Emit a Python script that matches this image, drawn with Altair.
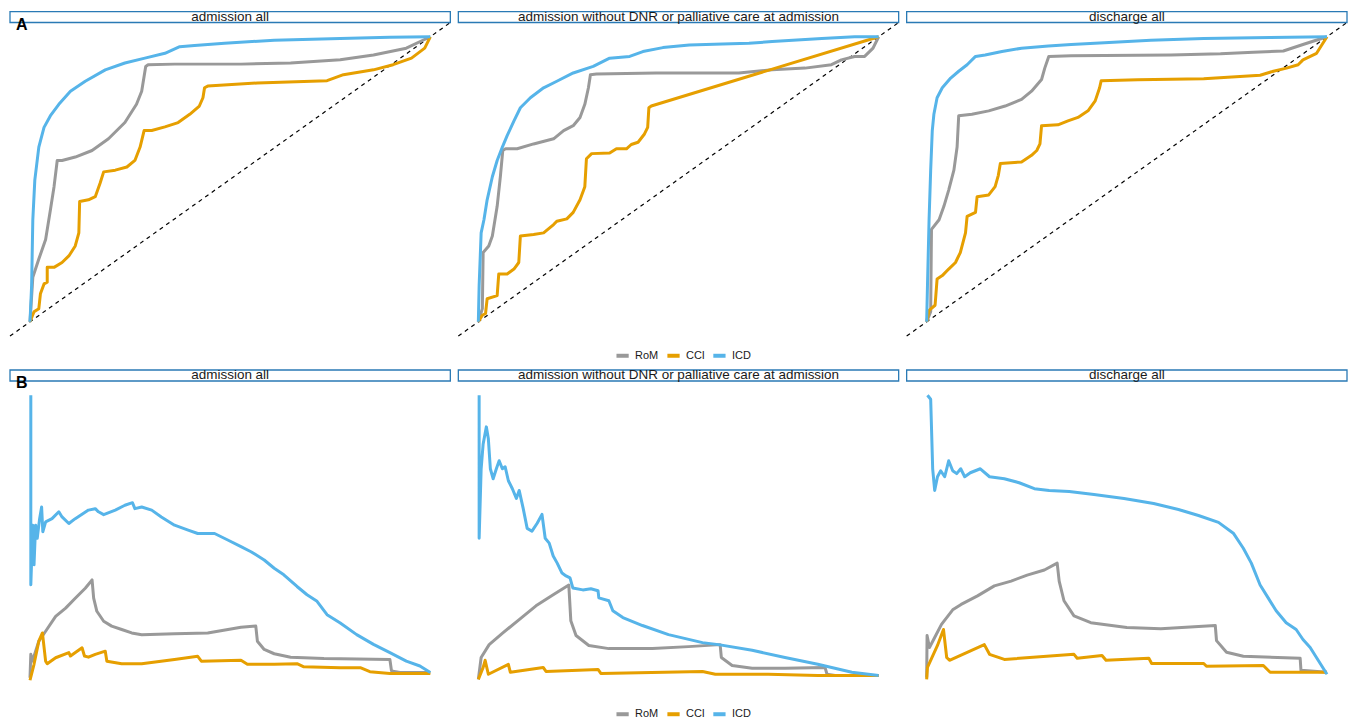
import altair as alt
import pandas as pd

series = ["RoM", "CCI", "ICD"]
colors = ["#999999", "#E69F00", "#56B4E9"]
panel_titles = ["admission all",
                "admission without DNR or palliative care at admission",
                "discharge all"]
row_labels = ["A", "B"]
domain = [-0.05, 1.05]
diag = [-0.05, 1.05]

# ---------- Row A: ROC curves (x = 1 - specificity, y = sensitivity) ----------
roc_p1_RoM = [(0, 0), (0.007, 0.156), (0.022, 0.220), (0.039, 0.289), (0.051, 0.393), (0.060, 0.474),
              (0.068, 0.566), (0.080, 0.566), (0.113, 0.578), (0.155, 0.601), (0.196, 0.642), (0.237, 0.699),
              (0.266, 0.763), (0.279, 0.809), (0.289, 0.896), (0.295, 0.902), (0.361, 0.904), (0.527, 0.904),
              (0.651, 0.908), (0.775, 0.919), (0.858, 0.936), (0.940, 0.960), (1, 1)]
roc_p1_CCI = [(0, 0), (0.010, 0.035), (0.022, 0.046), (0.026, 0.098), (0.035, 0.133), (0.043, 0.139),
              (0.043, 0.191), (0.060, 0.191), (0.080, 0.208), (0.097, 0.231), (0.113, 0.266), (0.122, 0.312),
              (0.124, 0.422), (0.146, 0.428), (0.163, 0.439), (0.175, 0.486), (0.184, 0.526), (0.213, 0.532),
              (0.242, 0.543), (0.262, 0.566), (0.275, 0.613), (0.285, 0.671), (0.304, 0.671), (0.337, 0.684),
              (0.370, 0.699), (0.399, 0.728), (0.423, 0.757), (0.432, 0.786), (0.436, 0.821), (0.444, 0.827),
              (0.568, 0.838), (0.742, 0.846), (0.783, 0.867), (0.858, 0.884), (0.907, 0.902), (0.953, 0.925),
              (0.986, 0.960), (1, 1)]
roc_p1_ICD = [(0, 0), (0.004, 0.127), (0.007, 0.358), (0.012, 0.497), (0.022, 0.613), (0.035, 0.682),
              (0.051, 0.723), (0.072, 0.763), (0.101, 0.809), (0.138, 0.844), (0.188, 0.884), (0.237, 0.908),
              (0.287, 0.925), (0.337, 0.942), (0.374, 0.965), (0.411, 0.969), (0.486, 0.977), (0.610, 0.988),
              (0.775, 0.994), (0.899, 0.998), (1, 1)]

roc_p2_RoM = [(0, 0), (0.010, 0.046), (0.012, 0.243), (0.026, 0.266), (0.035, 0.301), (0.047, 0.405),
              (0.055, 0.509), (0.061, 0.601), (0.068, 0.607), (0.097, 0.607), (0.138, 0.624), (0.188, 0.642),
              (0.213, 0.671), (0.237, 0.688), (0.254, 0.717), (0.266, 0.763), (0.275, 0.821), (0.280, 0.867),
              (0.295, 0.869), (0.444, 0.873), (0.651, 0.873), (0.734, 0.884), (0.816, 0.890), (0.882, 0.902),
              (0.907, 0.919), (0.940, 0.931), (0.965, 0.931), (0.986, 0.960), (1, 1)]
roc_p2_CCI = [(0, 0), (0.010, 0.023), (0.018, 0.029), (0.022, 0.081), (0.047, 0.092), (0.051, 0.168),
              (0.072, 0.168), (0.089, 0.185), (0.101, 0.208), (0.105, 0.301), (0.138, 0.306), (0.163, 0.312),
              (0.188, 0.341), (0.196, 0.353), (0.221, 0.361), (0.237, 0.384), (0.254, 0.428), (0.266, 0.474),
              (0.270, 0.572), (0.283, 0.590), (0.328, 0.592), (0.345, 0.607), (0.370, 0.607), (0.382, 0.622),
              (0.399, 0.630), (0.415, 0.659), (0.423, 0.682), (0.426, 0.751), (0.432, 0.757), (1, 1)]
roc_p2_ICD = [(0, 0), (0.002, 0.127), (0.007, 0.312), (0.014, 0.358), (0.022, 0.428), (0.035, 0.509),
              (0.047, 0.566), (0.060, 0.613), (0.072, 0.653), (0.089, 0.705), (0.105, 0.751), (0.130, 0.786),
              (0.163, 0.821), (0.196, 0.844), (0.237, 0.873), (0.287, 0.896), (0.328, 0.925), (0.378, 0.931),
              (0.411, 0.948), (0.461, 0.962), (0.527, 0.971), (0.610, 0.975), (0.676, 0.977), (0.734, 0.983),
              (0.858, 0.994), (0.940, 1.0), (1, 1)]

roc_p3_RoM = [(0, 0), (0.010, 0.035), (0.012, 0.324), (0.031, 0.358), (0.043, 0.405), (0.055, 0.462),
              (0.068, 0.532), (0.076, 0.613), (0.080, 0.723), (0.113, 0.728), (0.155, 0.740), (0.196, 0.757),
              (0.237, 0.780), (0.262, 0.809), (0.287, 0.850), (0.295, 0.890), (0.305, 0.931), (0.361, 0.933),
              (0.610, 0.936), (0.734, 0.940), (0.816, 0.946), (0.891, 0.950), (0.940, 0.973), (1, 1)]
roc_p3_CCI = [(0, 0), (0.006, 0.040), (0.021, 0.058), (0.026, 0.150), (0.039, 0.162), (0.055, 0.185),
              (0.072, 0.208), (0.084, 0.243), (0.097, 0.312), (0.101, 0.370), (0.122, 0.384), (0.126, 0.439),
              (0.155, 0.445), (0.171, 0.474), (0.179, 0.514), (0.184, 0.555), (0.237, 0.561), (0.262, 0.584),
              (0.275, 0.601), (0.283, 0.624), (0.287, 0.688), (0.328, 0.691), (0.353, 0.705), (0.378, 0.717),
              (0.403, 0.740), (0.421, 0.775), (0.432, 0.821), (0.436, 0.846), (0.527, 0.849), (0.692, 0.853),
              (0.833, 0.865), (0.866, 0.879), (0.899, 0.890), (0.928, 0.902), (0.940, 0.919), (0.974, 0.942),
              (1, 1)]
roc_p3_ICD = [(0, 0), (0.002, 0.127), (0.006, 0.358), (0.010, 0.532), (0.014, 0.671), (0.018, 0.728),
              (0.026, 0.786), (0.039, 0.821), (0.060, 0.855), (0.080, 0.879), (0.101, 0.902), (0.122, 0.931),
              (0.146, 0.936), (0.188, 0.948), (0.237, 0.960), (0.304, 0.968), (0.361, 0.973), (0.444, 0.979),
              (0.560, 0.988), (0.692, 0.994), (0.858, 0.997), (1, 1)]

# ---------- Row B: second curve family ----------
b_p1_RoM = [(0, 0.009), (0.002, 0.091), (0.006, 0.067), (0.022, 0.137), (0.039, 0.172), (0.064, 0.224),
            (0.089, 0.253), (0.113, 0.288), (0.138, 0.323), (0.155, 0.352), (0.159, 0.288), (0.167, 0.242),
            (0.184, 0.207), (0.204, 0.190), (0.229, 0.178), (0.254, 0.166), (0.279, 0.160), (0.361, 0.163),
            (0.444, 0.166), (0.527, 0.186), (0.564, 0.190), (0.568, 0.137), (0.585, 0.108), (0.610, 0.093),
            (0.651, 0.081), (0.734, 0.076), (0.899, 0.073), (0.903, 0.033), (0.924, 0.027), (1.0, 0.027)]
b_p1_CCI = [(0, 0), (0.010, 0.056), (0.022, 0.137), (0.031, 0.166), (0.039, 0.067), (0.043, 0.058),
            (0.064, 0.079), (0.097, 0.097), (0.101, 0.085), (0.130, 0.114), (0.136, 0.085), (0.146, 0.081),
            (0.163, 0.091), (0.188, 0.102), (0.192, 0.067), (0.229, 0.058), (0.279, 0.058), (0.361, 0.073),
            (0.419, 0.084), (0.428, 0.067), (0.527, 0.070), (0.543, 0.056), (0.610, 0.056), (0.667, 0.058),
            (0.684, 0.047), (0.775, 0.044), (0.825, 0.044), (0.849, 0.030), (0.899, 0.024), (1.0, 0.024)]
b_p1_ICD = [(0.002, 1.0), (0.002, 0.335), (0.007, 0.544), (0.010, 0.405), (0.014, 0.544), (0.018, 0.498),
            (0.024, 0.567), (0.029, 0.608), (0.032, 0.521), (0.039, 0.556), (0.055, 0.567), (0.072, 0.591),
            (0.080, 0.573), (0.097, 0.550), (0.113, 0.567), (0.146, 0.597), (0.163, 0.602), (0.171, 0.591),
            (0.184, 0.581), (0.213, 0.597), (0.237, 0.614), (0.256, 0.623), (0.262, 0.602), (0.279, 0.608),
            (0.304, 0.597), (0.328, 0.573), (0.361, 0.544), (0.395, 0.527), (0.419, 0.515), (0.461, 0.515),
            (0.494, 0.492), (0.527, 0.469), (0.552, 0.451), (0.585, 0.422), (0.610, 0.393), (0.634, 0.370),
            (0.667, 0.329), (0.692, 0.300), (0.717, 0.277), (0.742, 0.230), (0.775, 0.201), (0.816, 0.160),
            (0.858, 0.126), (0.899, 0.097), (0.940, 0.067), (0.974, 0.050), (1.0, 0.027)]

b_p2_RoM = [(0, 0.003), (0.007, 0.080), (0.027, 0.125), (0.062, 0.167), (0.102, 0.213), (0.144, 0.261),
            (0.187, 0.300), (0.226, 0.334), (0.231, 0.209), (0.244, 0.157), (0.276, 0.122), (0.326, 0.111),
            (0.435, 0.111), (0.525, 0.118), (0.604, 0.125), (0.607, 0.080), (0.634, 0.052), (0.684, 0.042),
            (0.766, 0.042), (0.866, 0.045), (0.871, 0.021), (0.891, 0.017), (1.0, 0.017)]
b_p2_CCI = [(0, 0.003), (0.012, 0.045), (0.017, 0.070), (0.025, 0.021), (0.075, 0.056), (0.080, 0.028),
            (0.162, 0.045), (0.169, 0.031), (0.299, 0.038), (0.306, 0.024), (0.560, 0.031), (0.592, 0.021),
            (0.724, 0.021), (0.848, 0.017), (1.0, 0.017)]
b_p2_ICD = [(0.002, 1.0), (0.002, 0.498), (0.007, 0.742), (0.012, 0.829), (0.020, 0.889), (0.025, 0.847),
            (0.030, 0.742), (0.037, 0.707), (0.045, 0.742), (0.052, 0.770), (0.060, 0.742), (0.067, 0.749),
            (0.075, 0.700), (0.085, 0.672), (0.095, 0.638), (0.102, 0.666), (0.112, 0.603), (0.122, 0.533),
            (0.134, 0.523), (0.147, 0.551), (0.159, 0.582), (0.167, 0.498), (0.177, 0.481), (0.187, 0.436),
            (0.197, 0.411), (0.209, 0.376), (0.219, 0.366), (0.229, 0.359), (0.236, 0.324), (0.261, 0.317),
            (0.281, 0.321), (0.299, 0.314), (0.301, 0.289), (0.326, 0.279), (0.336, 0.244), (0.361, 0.220),
            (0.410, 0.192), (0.475, 0.160), (0.560, 0.132), (0.600, 0.125), (0.684, 0.105), (0.766, 0.080),
            (0.848, 0.056), (0.933, 0.028), (1.0, 0.017)]

b_p3_RoM = [(0, 0.010), (0.001, 0.157), (0.007, 0.115), (0.020, 0.150), (0.037, 0.196), (0.065, 0.247),
            (0.086, 0.266), (0.127, 0.296), (0.169, 0.331), (0.211, 0.348), (0.251, 0.369), (0.294, 0.387),
            (0.326, 0.411), (0.331, 0.348), (0.343, 0.279), (0.368, 0.226), (0.410, 0.202), (0.500, 0.185),
            (0.585, 0.181), (0.721, 0.192), (0.724, 0.139), (0.749, 0.098), (0.791, 0.084), (0.933, 0.077),
            (0.935, 0.035), (1.0, 0.028)]
b_p3_CCI = [(0, 0.003), (0.002, 0.045), (0.027, 0.122), (0.042, 0.178), (0.050, 0.080), (0.057, 0.070),
            (0.144, 0.125), (0.157, 0.091), (0.194, 0.073), (0.368, 0.091), (0.376, 0.077), (0.438, 0.087),
            (0.448, 0.070), (0.555, 0.077), (0.562, 0.059), (0.692, 0.059), (0.699, 0.049), (0.841, 0.052),
            (0.858, 0.028), (1.0, 0.028)]
b_p3_ICD = [(0.002, 1.0), (0.010, 0.986), (0.015, 0.742), (0.020, 0.666), (0.027, 0.714), (0.035, 0.735),
            (0.045, 0.714), (0.055, 0.770), (0.065, 0.735), (0.075, 0.725), (0.085, 0.742), (0.095, 0.714),
            (0.109, 0.728), (0.134, 0.742), (0.157, 0.714), (0.194, 0.707), (0.231, 0.693), (0.269, 0.672),
            (0.306, 0.666), (0.356, 0.662), (0.418, 0.652), (0.493, 0.638), (0.567, 0.620), (0.629, 0.599),
            (0.679, 0.578), (0.729, 0.554), (0.766, 0.516), (0.791, 0.463), (0.811, 0.411), (0.833, 0.334),
            (0.853, 0.289), (0.873, 0.244), (0.898, 0.202), (0.923, 0.178), (0.940, 0.143), (0.958, 0.115),
            (0.978, 0.070), (1.0, 0.021)]

rows = [
    [[roc_p1_RoM, roc_p1_CCI, roc_p1_ICD], [roc_p2_RoM, roc_p2_CCI, roc_p2_ICD], [roc_p3_RoM, roc_p3_CCI, roc_p3_ICD]],
    [[b_p1_RoM, b_p1_CCI, b_p1_ICD], [b_p2_RoM, b_p2_CCI, b_p2_ICD], [b_p3_RoM, b_p3_CCI, b_p3_ICD]],
]

W, H, STRIP = 441, 314, 11
HSPACE, VSPACE = 8, 4
FONT = "Liberation Sans"
STRIP_BLUE = "#2A7AB5"

legend = alt.Legend(orient="none", direction="horizontal", title=None, legendX=605, legendY=H + 11,
                    symbolType="stroke", symbolSize=150, symbolStrokeWidth=4,
                    labelFont=FONT, labelFontSize=11, labelColor="#1a1a1a",
                    labelOffset=4, columnPadding=0, symbolOffset=0, padding=0)


def make_panel(curves, title, label, with_diag):
    recs = []
    for name, pts in zip(series, curves):
        for i, (x, y) in enumerate(pts):
            recs.append({"series": name, "i": i, "x": x, "y": y})
    df = pd.DataFrame(recs)
    xs = alt.Scale(domain=domain, nice=False, zero=False)
    ys = alt.Scale(domain=domain, nice=False, zero=False)
    layers = []
    if with_diag:
        ddf = pd.DataFrame({"x": diag, "y": diag})
        layers.append(alt.Chart(ddf).mark_line(color="black", strokeWidth=1.2, strokeDash=[4, 4],
                                               strokeJoin="round").encode(
            x=alt.X("x:Q", scale=xs, axis=None), y=alt.Y("y:Q", scale=ys, axis=None)))
    layers.append(alt.Chart(df).mark_line(strokeWidth=3, strokeJoin="round").encode(
        x=alt.X("x:Q", scale=xs, axis=None),
        y=alt.Y("y:Q", scale=ys, axis=None),
        color=alt.Color("series:N", scale=alt.Scale(domain=series, range=colors), legend=legend),
        order="i:Q"))
    tdf = pd.DataFrame({"t": [title]})
    layers.append(alt.Chart(tdf).mark_rect(fill="white", stroke=STRIP_BLUE, strokeWidth=1.3).encode(
        x=alt.value(0), x2=alt.value(W), y=alt.value(-STRIP), y2=alt.value(0)))
    layers.append(alt.Chart(tdf).mark_text(font=FONT, fontSize=13.5, color="#1a1a1a", baseline="middle",
                                           align="center").encode(
        x=alt.value(W / 2), y=alt.value(-5.5), text="t:N"))
    if label:
        ldf = pd.DataFrame({"t": [label]})
        layers.append(alt.Chart(ldf).mark_text(font=FONT, fontSize=16, fontWeight="bold", color="black",
                                               baseline="alphabetic", align="left").encode(
            x=alt.value(6), y=alt.value(7), text="t:N"))
    return alt.layer(*layers).properties(width=W, height=H)


row_charts = []
for r, row in enumerate(rows):
    panels = []
    for p, curves in enumerate(row):
        panels.append(make_panel(curves, panel_titles[p], row_labels[r] if p == 0 else None, r == 0))
    row_charts.append(alt.hconcat(*panels, spacing=HSPACE, bounds="flush"))

chart = alt.vconcat(*row_charts, spacing=VSPACE).resolve_scale(color="independent").properties(
    padding={"left": 1, "top": 1, "right": 0, "bottom": 0}, background="white"
).configure_view(stroke=None)

chart.save("out.html", embed_options={"renderer": "svg", "actions": False})
